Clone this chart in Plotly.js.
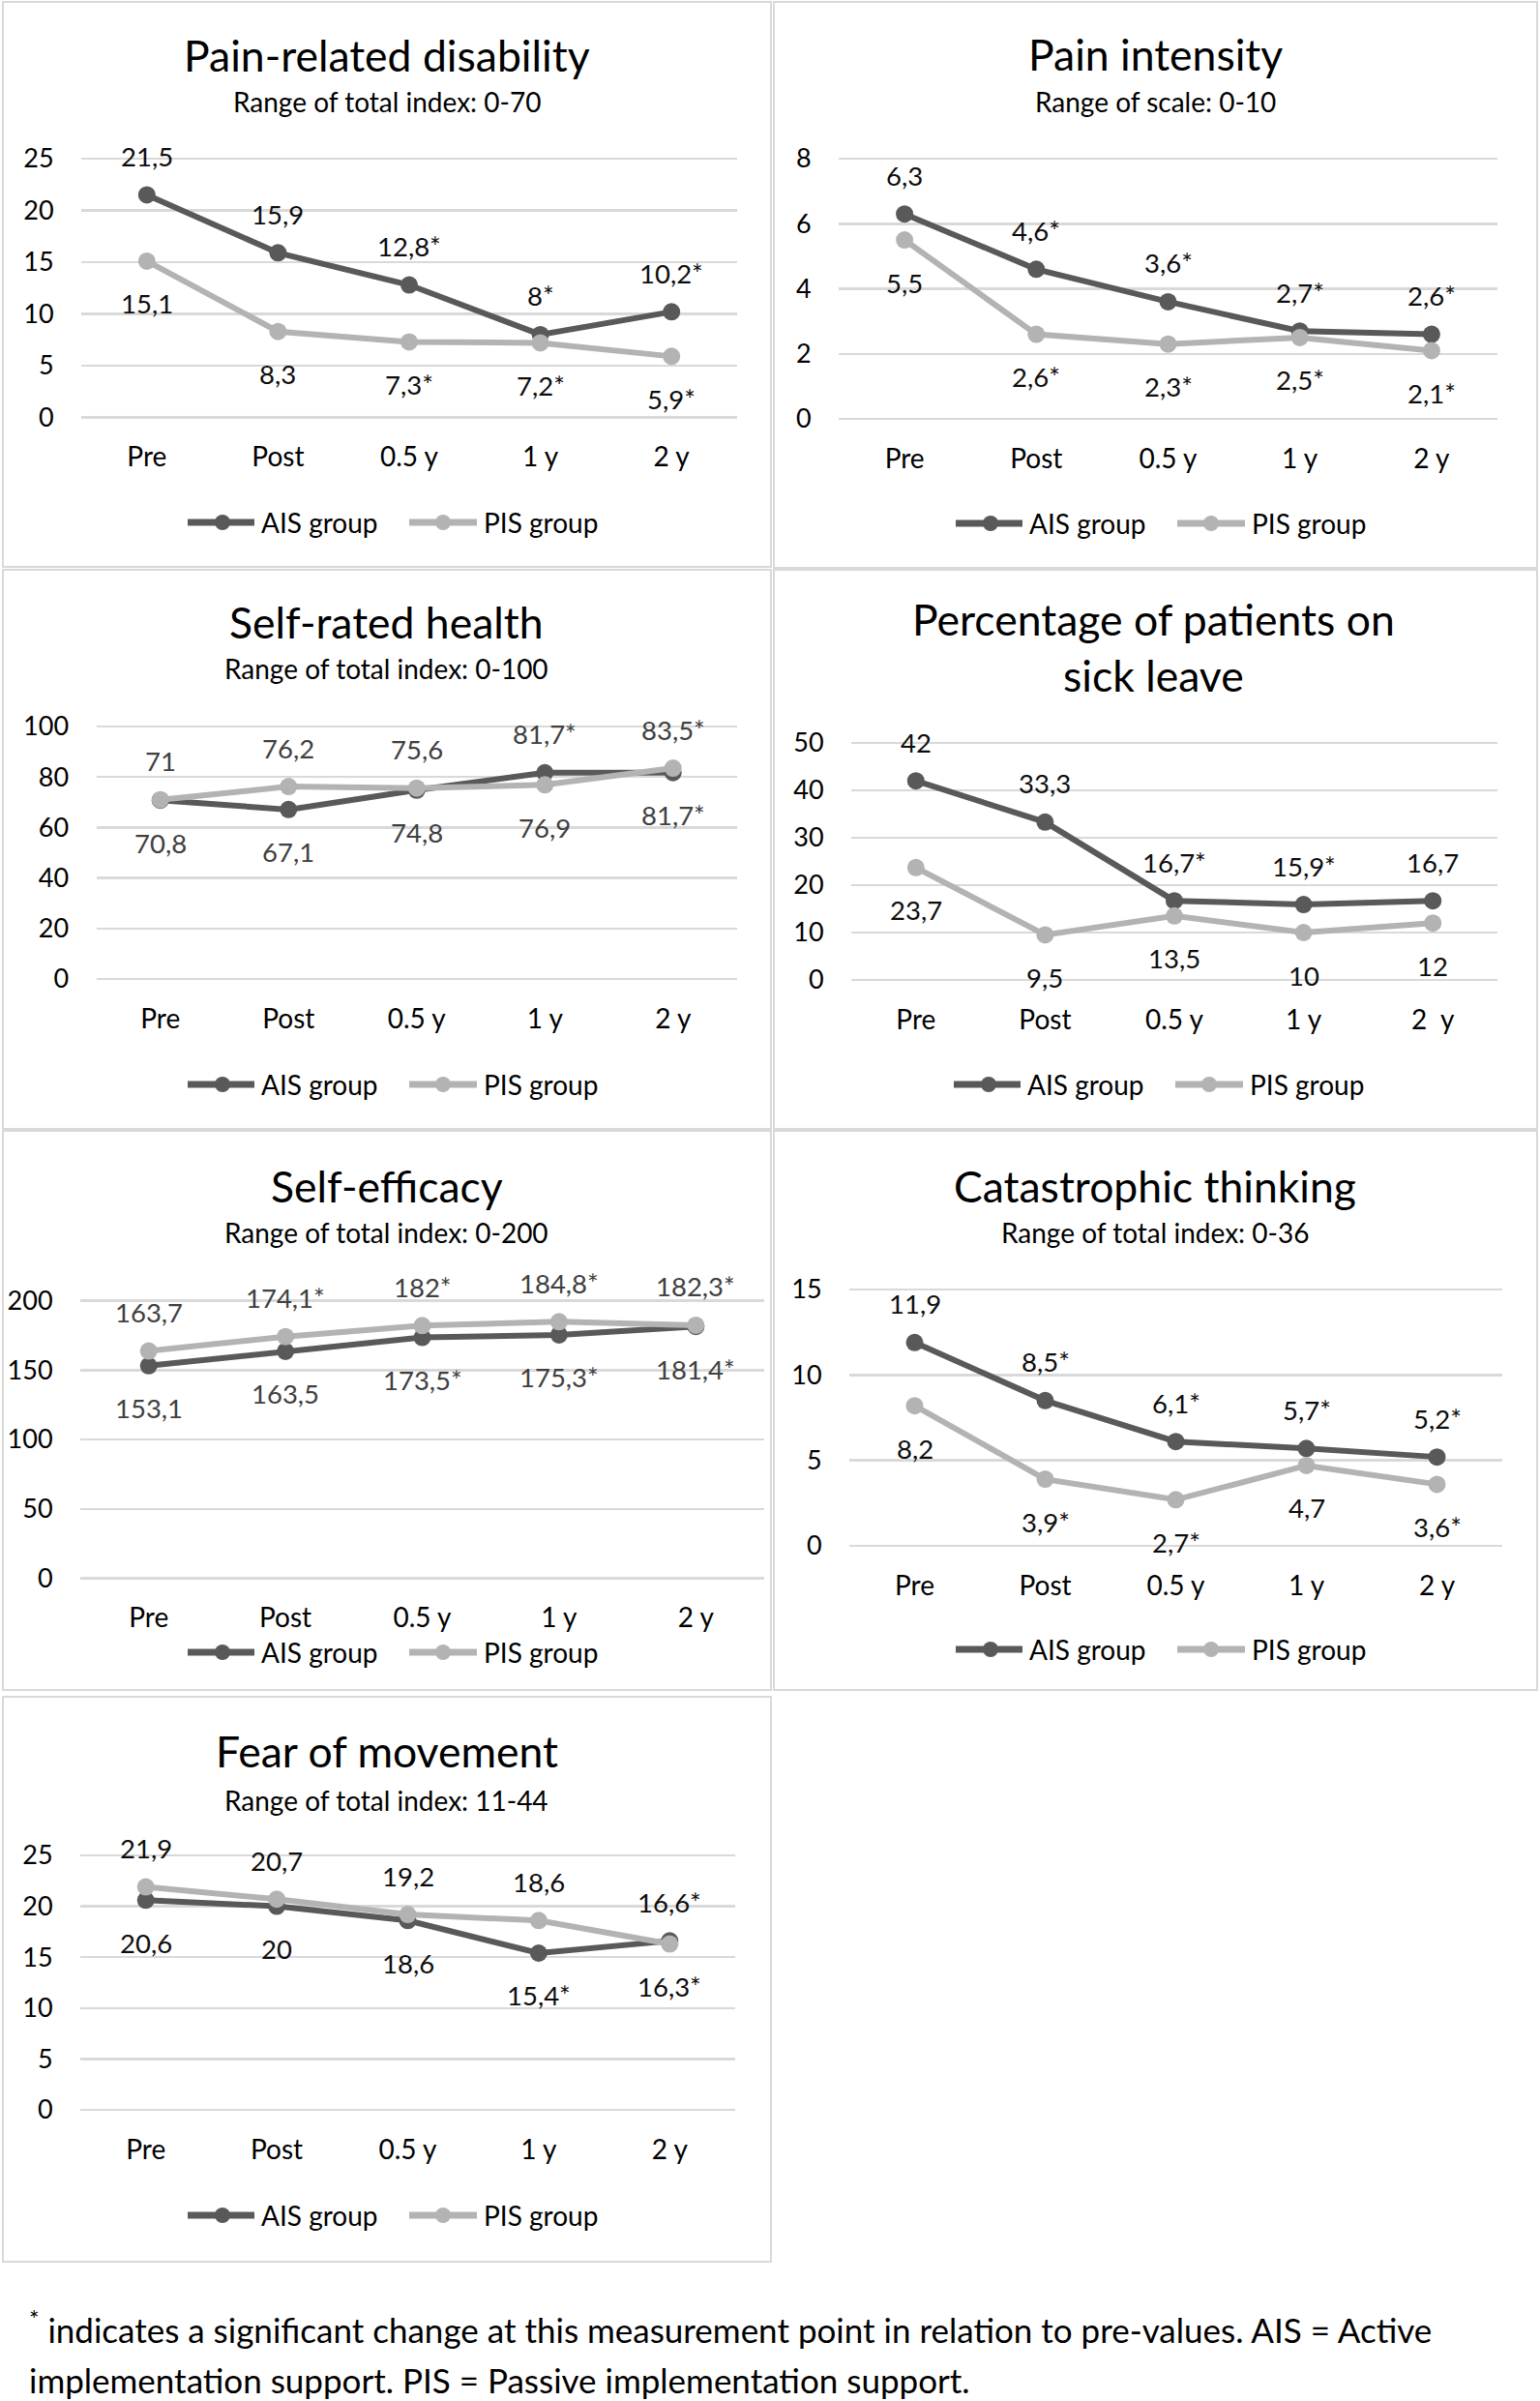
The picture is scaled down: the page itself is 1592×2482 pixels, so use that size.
<!DOCTYPE html>
<html>
<head>
<meta charset="utf-8">
<script src="https://cdn.plot.ly/plotly-3.0.1.min.js"></script>
<style>
html, body { margin: 0; padding: 0; background: #ffffff; }
#chart { width: 1592px; height: 2482px; }
</style>
</head>
<body>
<div id="chart"></div>
<script>
// ---------------- DATA ----------------
const categories = ['Pre', 'Post', '0.5 y', '1 y', '2 y'];
const categoriesSickLeave = ['Pre', 'Post', '0.5 y', '1 y', '2\u00a0 y'];
const seriesNames = ['AIS group', 'PIS group'];

const disabilityAIS = [21.5, 15.9, 12.8, 8, 10.2];
const disabilityPIS = [15.1, 8.3, 7.3, 7.2, 5.9];
const disabilitySigAIS = [false, false, true, true, true];
const disabilitySigPIS = [false, false, true, true, true];

const painAIS = [6.3, 4.6, 3.6, 2.7, 2.6];
const painPIS = [5.5, 2.6, 2.3, 2.5, 2.1];
const painSigAIS = [false, true, true, true, true];
const painSigPIS = [false, true, true, true, true];

const healthAIS = [70.8, 67.1, 74.8, 81.7, 81.7];
const healthPIS = [71, 76.2, 75.6, 76.9, 83.5];
const healthSigAIS = [false, false, false, true, true];
const healthSigPIS = [false, false, false, false, true];

const sickLeaveAIS = [42, 33.3, 16.7, 15.9, 16.7];
const sickLeavePIS = [23.7, 9.5, 13.5, 10, 12];
const sickLeaveSigAIS = [false, false, true, true, false];
const sickLeaveSigPIS = [false, false, false, false, false];

const efficacyAIS = [153.1, 163.5, 173.5, 175.3, 181.4];
const efficacyPIS = [163.7, 174.1, 182, 184.8, 182.3];
const efficacySigAIS = [false, false, true, true, true];
const efficacySigPIS = [false, true, true, true, true];

const catastrophAIS = [11.9, 8.5, 6.1, 5.7, 5.2];
const catastrophPIS = [8.2, 3.9, 2.7, 4.7, 3.6];
const catastrophSigAIS = [false, true, true, true, true];
const catastrophSigPIS = [false, true, true, false, true];

const fearAIS = [20.6, 20, 18.6, 15.4, 16.6];
const fearPIS = [21.9, 20.7, 19.2, 18.6, 16.3];
const fearSigAIS = [false, false, false, true, true];
const fearSigPIS = [false, false, false, false, true];

const footnoteLine1 = '<sup>*</sup> indicates a significant change at this measurement point in relation to pre-values. AIS = Active';
const footnoteLine2 = 'implementation support. PIS = Passive implementation support.';

// ---------------- LAYOUT / STYLE ----------------
const W = 1592, H = 2482;
const FONT = 'Lato, "Open Sans", "DejaVu Sans", sans-serif';
const AIS_COLOR = '#595959';
const PIS_COLOR = '#b3b3b3';
const GRID = '#d9d9d9';

const panels = [
  { title: 'Pain-related disability', sub: 'Range of total index: 0-70', cats: categories,
    ais: disabilityAIS, pis: disabilityPIS, sigA: disabilitySigAIS, sigP: disabilitySigPIS,
    box: [3, 2, 797, 586], px: [84, 762], py0: 431.5, pyMax: 164, ymax: 25, dtick: 5,
    titleY: 57, subY: 105, cx: 400, legY: 540,
    posA: ['t','t','t','t','t'], posP: ['b','b','b','b','b'], labelColor: '#0d0d0d' },
  { title: 'Pain intensity', sub: 'Range of scale: 0-10', cats: categories,
    ais: painAIS, pis: painPIS, sigA: painSigAIS, sigP: painSigPIS,
    box: [800, 2, 1589, 587], px: [867, 1548], py0: 433, pyMax: 164, ymax: 8, dtick: 2,
    titleY: 56, subY: 105, cx: 1194, legY: 541,
    posA: ['t','t','t','t','t'], posP: ['b','b','b','b','b'], labelColor: '#0d0d0d' },
  { title: 'Self-rated health', sub: 'Range of total index: 0-100', cats: categories,
    ais: healthAIS, pis: healthPIS, sigA: healthSigAIS, sigP: healthSigPIS,
    box: [3, 589, 797, 1167], px: [99.5, 762], py0: 1012, pyMax: 751, ymax: 100, dtick: 20,
    titleY: 643, subY: 691, cx: 400, legY: 1121,
    posA: ['b','b','b','t','b'], posP: ['t','t','t','b','t'], labelColor: '#404040' },
  { title: 'Percentage of patients on<br>sick leave', sub: null, cats: categoriesSickLeave,
    ais: sickLeaveAIS, pis: sickLeavePIS, sigA: sickLeaveSigAIS, sigP: sickLeaveSigPIS,
    box: [800, 589, 1589, 1167], px: [880, 1548], py0: 1013, pyMax: 768, ymax: 50, dtick: 10,
    titleY: 669, subY: null, cx: 1192, legY: 1121,
    posA: ['t','t','t','t','t'], posP: ['b','b','b','b','b'], labelColor: '#0d0d0d' },
  { title: 'Self-efficacy', sub: 'Range of total index: 0-200', cats: categories,
    ais: efficacyAIS, pis: efficacyPIS, sigA: efficacySigAIS, sigP: efficacySigPIS,
    box: [3, 1169, 797, 1747], px: [83, 790], py0: 1631.5, pyMax: 1344.5, ymax: 200, dtick: 50,
    titleY: 1225, subY: 1274, cx: 400, legY: 1708,
    posA: ['b','b','b','b','b'], posP: ['t','t','t','t','t'], labelColor: '#404040' },
  { title: 'Catastrophic thinking', sub: 'Range of total index: 0-36', cats: categories,
    ais: catastrophAIS, pis: catastrophPIS, sigA: catastrophSigAIS, sigP: catastrophSigPIS,
    box: [800, 1169, 1589, 1747], px: [878, 1553], py0: 1598, pyMax: 1333, ymax: 15, dtick: 5,
    titleY: 1225, subY: 1274, cx: 1194, legY: 1705,
    posA: ['t','t','t','t','t'], posP: ['b','b','b','b','b'], labelColor: '#0d0d0d' },
  { title: 'Fear of movement', sub: 'Range of total index: 11-44', cats: categories,
    ais: fearAIS, pis: fearPIS, sigA: fearSigAIS, sigP: fearSigPIS,
    box: [3, 1754, 797, 2338], px: [83, 760], py0: 2181, pyMax: 1918, ymax: 25, dtick: 5,
    titleY: 1809, subY: 1860.5, cx: 400, legY: 2290,
    posA: ['b','b','b','b','t'], posP: ['t','t','t','t','b'], labelColor: '#0d0d0d' }
];

function fmt(v, sig) { return String(v).replace('.', ',') + (sig ? '*' : ''); }
const X = px => px / W;
const Y = py => 1 - py / H;

const traces = [];
const shapes = [];
const annotations = [];
const layout = {
  width: W, height: H,
  margin: { l: 0, r: 0, t: 0, b: 0, pad: 0 },
  paper_bgcolor: '#ffffff', plot_bgcolor: 'rgba(0,0,0,0)',
  showlegend: false,
  font: { family: FONT, color: '#000000' }
};

panels.forEach((p, i) => {
  const s = i === 0 ? '' : String(i + 1);
  const k = (p.py0 - p.pyMax) / p.ymax;   // px per unit
  const pad = 5;
  layout['xaxis' + s] = {
    domain: [X(p.px[0]), X(p.px[1])], anchor: 'y' + s,
    type: 'category', categoryarray: p.cats, range: [-0.5, 4.5],
    showgrid: false, zeroline: false, showline: false,
    ticks: 'outside', ticklen: 11, tickcolor: 'rgba(0,0,0,0)',
    tickfont: { family: FONT, size: 28, color: '#000000' }, fixedrange: true
  };
  layout['yaxis' + s] = {
    domain: [Y(p.py0 + pad), Y(p.pyMax - pad)], anchor: 'x' + s,
    range: [-pad / k, p.ymax + pad / k], tick0: 0, dtick: p.dtick,
    showgrid: true, gridcolor: GRID, gridwidth: 2.5, zeroline: false, showline: false,
    ticks: 'outside', ticklen: 22, tickcolor: 'rgba(0,0,0,0)',
    tickfont: { family: FONT, size: 27, color: '#000000' }, fixedrange: true
  };
  [[p.ais, AIS_COLOR, seriesNames[0]], [p.pis, PIS_COLOR, seriesNames[1]]].forEach(([vals, col, nm]) => {
    traces.push({
      type: 'scatter', mode: 'lines+markers', name: nm,
      x: p.cats, y: vals, xaxis: 'x' + s, yaxis: 'y' + s,
      line: { color: col, width: 6 }, marker: { color: col, size: 18 },
      cliponaxis: false, hoverinfo: 'skip'
    });
  });
  // data labels
  [[p.ais, p.sigA, p.posA], [p.pis, p.sigP, p.posP]].forEach(([vals, sig, pos]) => {
    vals.forEach((v, j) => {
      annotations.push({
        xref: 'x' + s, yref: 'y' + s, x: p.cats[j], y: v,
        text: fmt(v, sig[j]), showarrow: false,
        yshift: pos[j] === 't' ? 40 : -44,
        font: { family: FONT, size: 27.5, color: p.labelColor }
      });
    });
  });
  // border
  shapes.push({ type: 'rect', xref: 'paper', yref: 'paper',
    x0: X(p.box[0]), x1: X(p.box[2]), y0: Y(p.box[3]), y1: Y(p.box[1]),
    line: { color: GRID, width: 2 }, fillcolor: 'rgba(0,0,0,0)' });
  // titles
  annotations.push({ xref: 'paper', yref: 'paper', x: X(p.cx), y: Y(p.titleY),
    xanchor: 'center', yanchor: 'middle', showarrow: false, text: p.title,
    font: { family: FONT, size: 44.5, color: '#000000' } });
  if (p.sub) {
    annotations.push({ xref: 'paper', yref: 'paper', x: X(p.cx), y: Y(p.subY),
      xanchor: 'center', yanchor: 'middle', showarrow: false, text: p.sub,
      font: { family: FONT, size: 28, color: '#000000' } });
  }
  // legend (drawn)
  const ly = Y(p.legY);
  const items = [
    { col: AIS_COLOR, l0: -206, l1: -137, m: -170, t: -132, name: seriesNames[0] },
    { col: PIS_COLOR, l0: 23, l1: 93, m: 58, t: 98, name: seriesNames[1] }
  ];
  items.forEach(it => {
    shapes.push({ type: 'line', xref: 'paper', yref: 'paper',
      x0: X(p.cx + it.l0), x1: X(p.cx + it.l1), y0: ly, y1: ly,
      line: { color: it.col, width: 7 } });
    shapes.push({ type: 'circle', xref: 'paper', yref: 'paper',
      xsizemode: 'pixel', ysizemode: 'pixel', xanchor: X(p.cx + it.m), yanchor: ly,
      x0: -8, x1: 8, y0: -8, y1: 8, fillcolor: it.col, line: { width: 0 } });
    annotations.push({ xref: 'paper', yref: 'paper', x: X(p.cx + it.t), y: ly,
      xanchor: 'left', yanchor: 'middle', showarrow: false, text: it.name,
      font: { family: FONT, size: 28, color: '#000000' } });
  });
});

annotations.push({ xref: 'paper', yref: 'paper', x: X(28), y: Y(2406),
  xanchor: 'left', yanchor: 'middle', showarrow: false, align: 'left',
  text: footnoteLine1, font: { family: FONT, size: 35, color: '#000000' } });
annotations.push({ xref: 'paper', yref: 'paper', x: X(28), y: Y(2460),
  xanchor: 'left', yanchor: 'middle', showarrow: false, align: 'left',
  text: footnoteLine2, font: { family: FONT, size: 35, color: '#000000' } });

layout.shapes = shapes;
layout.annotations = annotations;

Plotly.newPlot('chart', traces, layout, { displayModeBar: false, staticPlot: true });
</script>
</body>
</html>
